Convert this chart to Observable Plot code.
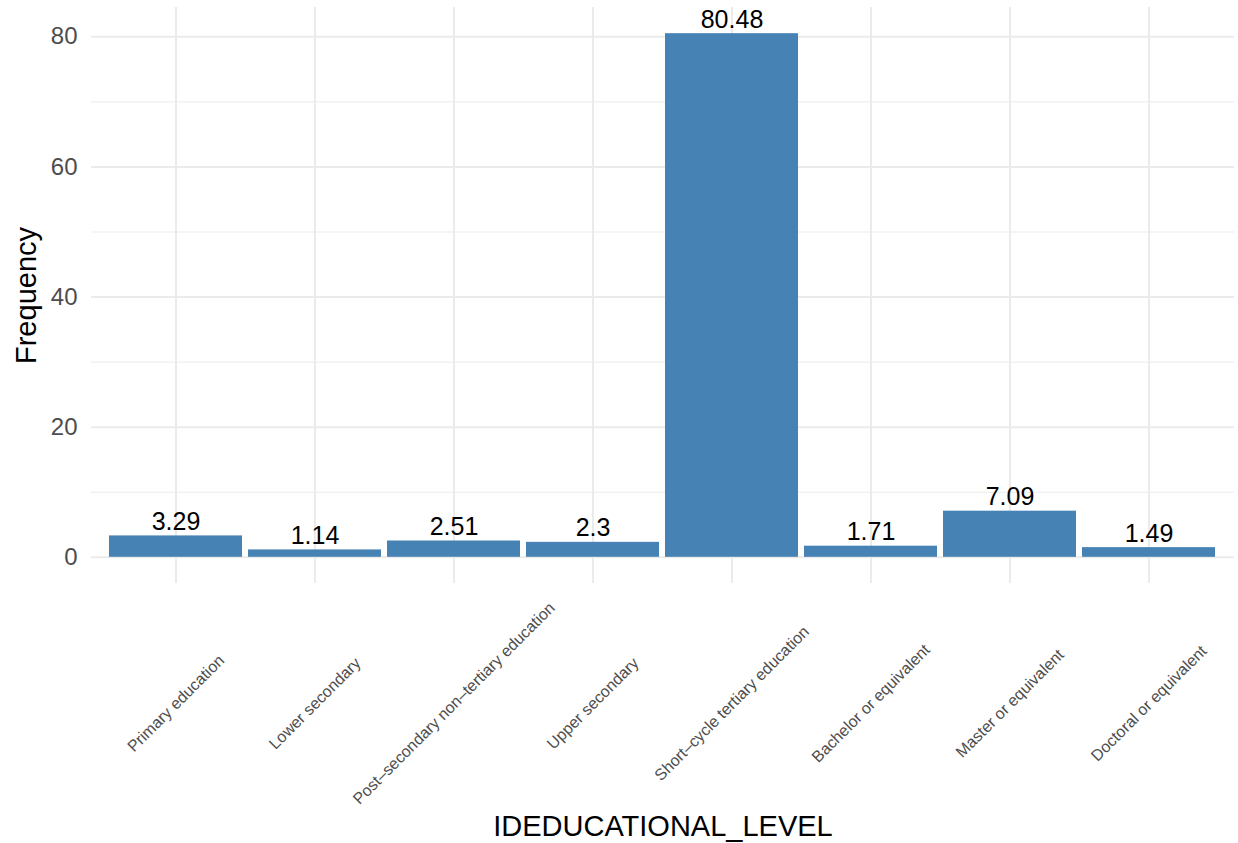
<!DOCTYPE html>
<html>
<head>
<meta charset="utf-8">
<script src="https://cdn.jsdelivr.net/npm/d3@7"></script>
<script src="https://cdn.jsdelivr.net/npm/@observablehq/plot@0.6"></script>
<style>
  html, body { margin: 0; padding: 0; background: #ffffff; }
  #chart svg { display: block; }
</style>
</head>
<body>
<div id="chart"></div>
<script>
// Data
const categories = [
  "Primary education",
  "Lower secondary",
  "Post–secondary non–tertiary education",
  "Upper secondary",
  "Short–cycle tertiary education",
  "Bachelor or equivalent",
  "Master or equivalent",
  "Doctoral or equivalent"
];
const frequencies = [3.29, 1.14, 2.51, 2.3, 80.48, 1.71, 7.09, 1.49];
const majorTicks = [0, 20, 40, 60, 80];
const minorTicks = [10, 30, 50, 70];
const xTitle = "IDEDUCATIONAL_LEVEL";
const yTitle = "Frequency";

const rows = categories.map((c, i) => ({level: c, freq: frequencies[i]}));

const font = "'Liberation Sans', Arial, Helvetica, sans-serif";
const grid = "#ebebeb";
const tickColor = "#4d4d4d";

const chart = Plot.plot({
  width: 1238,
  height: 843,
  marginTop: 7,
  marginBottom: 260,
  marginLeft: 91,
  marginRight: 4,
  style: {fontFamily: font, background: "#ffffff", color: "#000000"},
  x: {type: "band", domain: categories, paddingInner: 0.043, paddingOuter: 0.1215},
  y: {domain: [-4.024, 84.504]},
  marks: [
    Plot.gridY(minorTicks, {stroke: grid, strokeOpacity: 1, strokeWidth: 1}),
    Plot.gridY(majorTicks, {stroke: grid, strokeOpacity: 1, strokeWidth: 2}),
    Plot.gridX(categories, {stroke: grid, strokeOpacity: 1, strokeWidth: 2}),
    Plot.barY(rows, {x: "level", y: "freq", fill: "#4682b4"}),
    Plot.text(rows, {
      x: "level", y: "freq", text: d => String(d.freq),
      lineAnchor: "bottom", textAnchor: "middle", dy: -6,
      fontSize: 25, fill: "#000000"
    }),
    Plot.axisY(majorTicks, {
      tickSize: 0, tickPadding: 14, fontSize: 24, color: tickColor, label: null
    }),
    Plot.axisX(categories, {
      tickSize: 0, tickPadding: 120, tickRotate: -45,
      textAnchor: "middle", lineAnchor: "middle",
      fontSize: 16, color: tickColor, label: null
    }),
    Plot.text([xTitle], {
      frameAnchor: "bottom", dy: 252, lineAnchor: "bottom",
      textAnchor: "middle", fontSize: 29, fill: "#000000"
    }),
    Plot.text([yTitle], {
      frameAnchor: "left", dx: -56, rotate: -90, lineAnchor: "bottom",
      textAnchor: "middle", fontSize: 29, fill: "#000000"
    })
  ]
});

document.getElementById("chart").appendChild(chart);
</script>
</body>
</html>
